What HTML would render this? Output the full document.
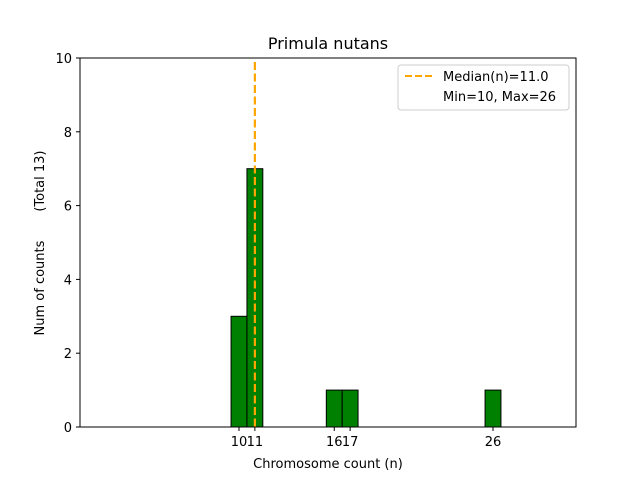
<!DOCTYPE html>
<html><head><meta charset="utf-8"><style>
body{margin:0;background:#fff;font-family:"DejaVu Sans","Liberation Sans",sans-serif}
text{white-space:pre}
</style></head><body>
<svg id="c" width="640" height="480" xmlns="http://www.w3.org/2000/svg">
<rect width="640" height="480" fill="#fff"/>
<text x="328" y="49" font-size="16" text-anchor="middle">Primula nutans</text>
<g id="bars"></g>
<g id="ticks"></g>
<rect x="80" y="58" width="496" height="369" fill="none" stroke="#000" stroke-width="1"/>
<text x="328" y="468" font-size="13" text-anchor="middle">Chromosome count (n)</text>
<text transform="translate(44,243) rotate(-90)" font-size="13" text-anchor="middle" xml:space="preserve">Num of counts       (Total 13)</text>
<g>
<rect x="398" y="65" width="171" height="45" rx="3" fill="#fff" stroke="#ccc"/>
<line x1="405" y1="76" x2="433" y2="76" stroke="orange" stroke-width="2" stroke-dasharray="7,3"/>
<text x="443" y="81" font-size="13">Median(n)=11.0</text>
<text x="443" y="101" font-size="13">Min=10, Max=26</text>
</g>
</svg>
<script>
const binCenters=[10,11,16,17,26];
const counts=[3,7,1,1,1];
const xTicks=[10,11,16,17,26];
const xTickLabels=["10","11","16","17","26"];
const yTicks=[0,2,4,6,8,10];
const median=11.0;
const ns="http://www.w3.org/2000/svg";
function sx(v){return 239+(v-10)*15.875;}
function sy(v){return 427-v*36.9;}
const bars=document.getElementById('bars');
const ticks=document.getElementById('ticks');
function mk(tag,attrs,parent){const e=document.createElementNS(ns,tag);for(const k in attrs)e.setAttribute(k,attrs[k]);parent.appendChild(e);return e;}
const base=mk('line',{x1:sx(0.5),x2:sx(29.5),y1:427,y2:427,stroke:'#000'},bars);


binCenters.forEach((c,i)=>{
 const r=mk('rect',{x:sx(c-0.5),y:sy(counts[i]),width:sx(c+0.5)-sx(c-0.5),height:sy(0)-sy(counts[i]),fill:'green',stroke:'#000','stroke-width':1},bars);
 
 
});
const m=mk('line',{x1:sx(median),x2:sx(median),y1:62,y2:427,stroke:'orange','stroke-width':2.2,'stroke-dasharray':'8,3.5'},bars);


xTicks.forEach((t,i)=>{
 mk('line',{x1:sx(t),x2:sx(t),y1:427,y2:431,stroke:'#000'},ticks);
 const tx=mk('text',{x:sx(t),y:446,'font-size':13,'text-anchor':'middle'},ticks);
 tx.textContent=xTickLabels[i];
 
 
});
yTicks.forEach(t=>{
 mk('line',{x1:76,x2:80,y1:sy(t),y2:sy(t),stroke:'#000'},ticks);
 const tx=mk('text',{x:72,y:sy(t)+5,'font-size':13,'text-anchor':'end'},ticks);
 tx.textContent=t;
 
 
});
</script>
</body></html>
